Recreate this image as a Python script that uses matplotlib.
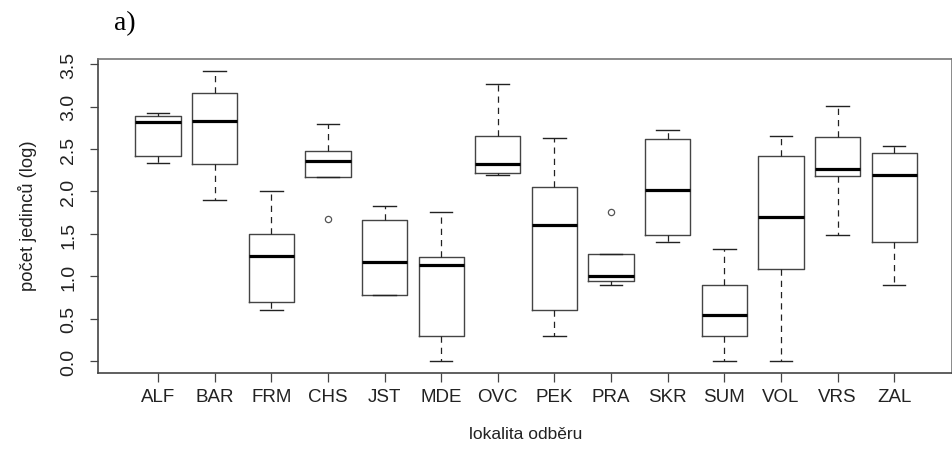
import numpy as np
import matplotlib
matplotlib.use('Agg')
import matplotlib.pyplot as plt

sites = ['ALF', 'BAR', 'FRM', 'CHS', 'JST', 'MDE', 'OVC',
         'PEK', 'PRA', 'SKR', 'SUM', 'VOL', 'VRS', 'ZAL']

# box summaries (log counts)
whis_lo = [2.34, 1.90, 0.61, 2.17, 0.78, 0.00, 2.19, 0.30, 0.90, 1.41, 0.00, 0.00, 1.49, 0.90]
q1 = [2.42, 2.32, 0.70, 2.17, 0.78, 0.30, 2.22, 0.61, 0.95, 1.49, 0.30, 1.09, 2.18, 1.40]
med = [2.82, 2.83, 1.24, 2.36, 1.17, 1.13, 2.32, 1.61, 1.00, 2.02, 0.55, 1.70, 2.26, 2.20]
q3 = [2.89, 3.16, 1.50, 2.48, 1.67, 1.23, 2.65, 2.05, 1.26, 2.62, 0.90, 2.42, 2.64, 2.45]
whis_hi = [2.93, 3.42, 2.01, 2.79, 1.83, 1.76, 3.27, 2.63, 1.26, 2.72, 1.32, 2.65, 3.01, 2.53]
outliers = [[], [], [], [1.68], [], [], [], [], [1.76], [], [], [], [], []]

stats = []
for i, name in enumerate(sites):
    stats.append(dict(label=name, whislo=whis_lo[i], q1=q1[i], med=med[i],
                      q3=q3[i], whishi=whis_hi[i], fliers=outliers[i]))

plt.rcParams['font.family'] = ['Liberation Sans', 'DejaVu Sans']

fig = plt.figure(figsize=(9.53, 4.52), dpi=100)
ax = fig.add_axes([98 / 953, 1 - 374 / 452, (952.5 - 98) / 953, (374 - 60) / 452])

box_col = '#444444'
ax.bxp(stats, positions=np.arange(1, len(sites) + 1), widths=0.8, capwidths=0.4,
       boxprops=dict(color=box_col, linewidth=1.0),
       medianprops=dict(color='black', linewidth=2.3, solid_capstyle='butt'),
       whiskerprops=dict(color='#222222', linewidth=0.9, linestyle=(0, (5, 4))),
       capprops=dict(color='#222222', linewidth=1.0),
       flierprops=dict(marker='o', markersize=4.5, markerfacecolor='none',
                       markeredgecolor='#555555', markeredgewidth=0.9))

ax.set_xlim(-0.06, 15.03)
ax.set_ylim(-0.137, 3.56)
ax.set_yticks(np.arange(0, 3.51, 0.5))
ax.set_yticklabels([f'{v:.1f}' for v in np.arange(0, 3.51, 0.5)],
                   rotation=90, va='center')
ax.set_xticks(np.arange(1, len(sites) + 1))
ax.set_xticklabels(sites)

for s in ax.spines.values():
    s.set_color('#777777')
    s.set_linewidth(1.2)
ax.spines['left'].set_color('#444444')
ax.spines['bottom'].set_color('#444444')

ax.tick_params(axis='y', length=6, width=0.9, color='#444444', pad=9,
               labelsize=14, labelcolor='#222222')
ax.tick_params(axis='x', length=6.5, width=0.9, color='#444444', pad=4,
               labelsize=13.5, labelcolor='#222222')

fig.text(28 / 953, 1 - 216 / 452, 'počet jedinců (log)', rotation=90,
         ha='center', va='center', fontsize=13.2, color='#222222')
fig.text(526 / 953, 1 - 435 / 452, 'lokalita odběru', ha='center',
         va='center', fontsize=12.5, color='#222222')
fig.text(125 / 953, 1 - 24 / 452, 'a)', ha='center', va='center',
         fontsize=20, family='Liberation Serif', color='black')

fig.savefig('out.png', dpi=100)
